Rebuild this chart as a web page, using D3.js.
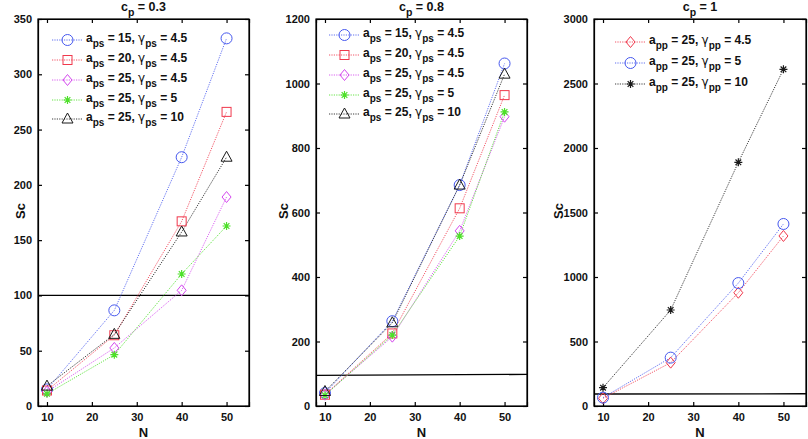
<!DOCTYPE html>
<html><head><meta charset="utf-8">
<script src="https://cdn.jsdelivr.net/npm/d3@7"></script>
<style>body{margin:0;background:#fff}text{font-family:Arial,"Liberation Sans",sans-serif;font-weight:bold}</style>
</head><body><svg id="c" width="808" height="439"></svg>
<script>
const N = [10, 25, 40, 50];
const xTicks = [10, 20, 30, 40, 50];
// panel 1 (c_p = 0.3)
const p1_a15_g45 = [15, 86.5, 225, 332.5];
const p1_a20_g45 = [14, 64, 167, 266];
const p1_a25_g45 = [13, 52.5, 104.6, 189];
const p1_a25_g5  = [11, 46.4, 119.4, 162.8];
const p1_a25_g10 = [18, 64.8, 157.4, 225];
const p1_ref = [100, 100];
const p1_yTicks = [0, 50, 100, 150, 200, 250, 300, 350];
// panel 2 (c_p = 0.8)
const p2_a15_g45 = [40, 263, 685, 1062];
const p2_a20_g45 = [35, 225, 613, 964];
const p2_a25_g45 = [35, 215, 543, 897];
const p2_a25_g5  = [33, 220, 527, 912];
const p2_a25_g10 = [45, 258, 685, 1029];
const p2_ref = [95, 98];
const p2_yTicks = [0, 200, 400, 600, 800, 1000, 1200];
// panel 3 (c_p = 1)
const p3_a25_g45 = [60, 336, 878, 1318];
const p3_a25_g5  = [65, 375, 953, 1411];
const p3_a25_g10 = [142, 744, 1889, 2610];
const p3_ref = [93, 95];
const p3_yTicks = [0, 500, 1000, 1500, 2000, 2500, 3000];
const refX = [8, 55];

const C = {blue:"#4658ee", red:"#f0384c", mag:"#d447ee", green:"#4ee02a", black:"#1a1a1a"};

const panels = [
  {x0:38, x1:249, title:"0.3", ymax:350, yTicks:p1_yTicks, ref:p1_ref, sub:"ps", scX:21,
   legY:[40,60,80,100,119], legX:[52,83,86],
   series:[
    {v:p1_a15_g45, c:C.blue, m:"circle", a:"15", g:"4.5"},
    {v:p1_a20_g45, c:C.red, m:"square", a:"20", g:"4.5"},
    {v:p1_a25_g45, c:C.mag, m:"diamond", a:"25", g:"4.5"},
    {v:p1_a25_g5, c:C.green, m:"star", a:"25", g:"5"},
    {v:p1_a25_g10, c:C.black, m:"triangle", a:"25", g:"10"}]},
  {x0:316, x1:527, title:"0.8", ymax:1200, yTicks:p2_yTicks, ref:p2_ref, sub:"ps", scX:284,
   legY:[35,55,75,95,114], legX:[329,360,363],
   series:[
    {v:p2_a15_g45, c:C.blue, m:"circle", a:"15", g:"4.5"},
    {v:p2_a20_g45, c:C.red, m:"square", a:"20", g:"4.5"},
    {v:p2_a25_g45, c:C.mag, m:"diamond", a:"25", g:"4.5"},
    {v:p2_a25_g5, c:C.green, m:"star", a:"25", g:"5"},
    {v:p2_a25_g10, c:C.black, m:"triangle", a:"25", g:"10"}]},
  {x0:594, x1:806, title:"1", ymax:3000, yTicks:p3_yTicks, ref:p3_ref, sub:"pp", scX:559,
   legY:[42,63,84], legX:[615,646,649],
   series:[
    {v:p3_a25_g45, c:C.red, m:"diamond", a:"25", g:"4.5"},
    {v:p3_a25_g5, c:C.blue, m:"circle", a:"25", g:"5"},
    {v:p3_a25_g10, c:C.black, m:"star", a:"25", g:"10"}]}
];

const svg = d3.select("#c");
const yTop = 19, yBot = 406;

function marker(g, type, x, y, col) {
  const s = g.append("g").attr("transform", `translate(${x},${y})`);
  if (type === "circle") s.append("circle").attr("r", 5.5).attr("fill","none").attr("stroke",col).attr("stroke-width",1);
  else if (type === "square") s.append("rect").attr("x",-4.5).attr("y",-4.5).attr("width",9).attr("height",9).attr("fill","none").attr("stroke",col).attr("stroke-width",1);
  else if (type === "diamond") s.append("path").attr("d","M0,-5.5L4.5,0L0,5.5L-4.5,0Z").attr("fill","none").attr("stroke",col).attr("stroke-width",1);
  else if (type === "triangle") s.append("path").attr("d","M0,-6L5.5,4L-5.5,4Z").attr("fill","none").attr("stroke",col).attr("stroke-width",1);
  else if (type === "star") {
    const r = 4;
    let d = "";
    for (let k = 0; k < 4; k++) {
      const a = k * Math.PI / 4;
      d += `M${(-r*Math.cos(a)).toFixed(2)},${(-r*Math.sin(a)).toFixed(2)}L${(r*Math.cos(a)).toFixed(2)},${(r*Math.sin(a)).toFixed(2)}`;
    }
    s.append("path").attr("d", d).attr("stroke", col).attr("stroke-width", 1.2).attr("fill","none");
  }
}

panels.forEach(p => {
  const x = d3.scaleLinear().domain([8, 55]).range([p.x0, p.x1]);
  const y = d3.scaleLinear().domain([0, p.ymax]).range([yBot, yTop]);
  const g = svg.append("g");

  const ax = g.append("g").attr("transform", `translate(0,${yBot})`)
    .call(d3.axisBottom(x).tickValues(xTicks).tickSize(-4).tickPadding(7).tickFormat(d3.format("d")));
  const axT = g.append("g").attr("transform", `translate(0,${yTop})`)
    .call(d3.axisTop(x).tickValues(xTicks).tickSize(-4).tickFormat(""));
  const ay = g.append("g").attr("transform", `translate(${p.x0},0)`)
    .call(d3.axisLeft(y).tickValues(p.yTicks).tickSize(-4).tickPadding(6).tickFormat(d3.format("d")));
  const ayR = g.append("g").attr("transform", `translate(${p.x1},0)`)
    .call(d3.axisRight(y).tickValues(p.yTicks).tickSize(-4).tickFormat(""));
  [ax, axT, ay, ayR].forEach(a => {
    a.select(".domain").attr("stroke", "#000").attr("stroke-width", 1.2);
    a.selectAll(".tick line").attr("stroke", "#000").attr("stroke-width", 1.2);
    a.selectAll(".tick text").attr("font-size", 11).attr("font-weight","bold").attr("fill","#111")
      .attr("font-family","Arial, 'Liberation Sans', sans-serif");
  });
  g.append("rect").attr("x", p.x0).attr("y", yTop).attr("width", p.x1 - p.x0).attr("height", yBot - yTop)
    .attr("fill","none").attr("stroke","#000").attr("stroke-width",1.2);

  g.append("line").attr("x1", x(refX[0])).attr("x2", x(refX[1]))
    .attr("y1", y(p.ref[0])).attr("y2", y(p.ref[1])).attr("stroke", "#000").attr("stroke-width", 1.3);

  const line = d3.line().x((d, i) => x(N[i])).y(d => y(d));
  p.series.forEach(s => {
    g.append("path").datum(s.v).attr("d", line).attr("fill", "none")
      .attr("stroke", s.c).attr("stroke-width", 1).attr("stroke-dasharray", "1.2,1.2").attr("opacity", 0.85);
  });
  p.series.forEach(s => {
    s.v.forEach((v, i) => marker(g, s.m, x(N[i]), y(v), s.c));
  });

  p.series.forEach((s, i) => {
    const ly = p.legY[i];
    g.append("line").attr("x1", p.legX[0]).attr("x2", p.legX[1]).attr("y1", ly).attr("y2", ly)
      .attr("stroke", s.c).attr("stroke-width", 1).attr("stroke-dasharray", "1.2,1.2").attr("opacity",0.85);
    marker(g, s.m, (p.legX[0] + p.legX[1]) / 2, ly, s.c);
    const t = g.append("text").attr("x", p.legX[2]).attr("y", ly + 2).attr("font-size", 12).attr("fill","#111");
    t.append("tspan").text("a");
    t.append("tspan").attr("dy", 5).attr("font-size", 10).text(p.sub);
    t.append("tspan").attr("dy", -5).text(` = ${s.a}, `);
    t.append("tspan").attr("font-family","'DejaVu Sans', sans-serif").attr("font-weight","normal").text("γ");
    t.append("tspan").attr("dy", 5).attr("font-size", 10).text(p.sub);
    t.append("tspan").attr("dy", -5).text(` = ${s.g}`);
  });

  const cx = (p.x0 + p.x1) / 2;
  const tt = g.append("text").attr("x", cx).attr("y", 11).attr("text-anchor", "middle").attr("font-size", 12.5).attr("fill","#111");
  tt.append("tspan").text("c");
  tt.append("tspan").attr("dy", 5).attr("font-size", 10.5).text("p");
  tt.append("tspan").attr("dy", -5).text(` = ${p.title}`);

  g.append("text").attr("x", cx).attr("y", 437).attr("text-anchor", "middle").attr("font-size", 13).attr("fill","#111").text("N");
  g.append("text").attr("transform", `translate(${p.scX + 4},211) rotate(-90)`)
    .attr("text-anchor", "middle").attr("font-size", 13).attr("fill","#111").text("Sc");
});
</script></body></html>
